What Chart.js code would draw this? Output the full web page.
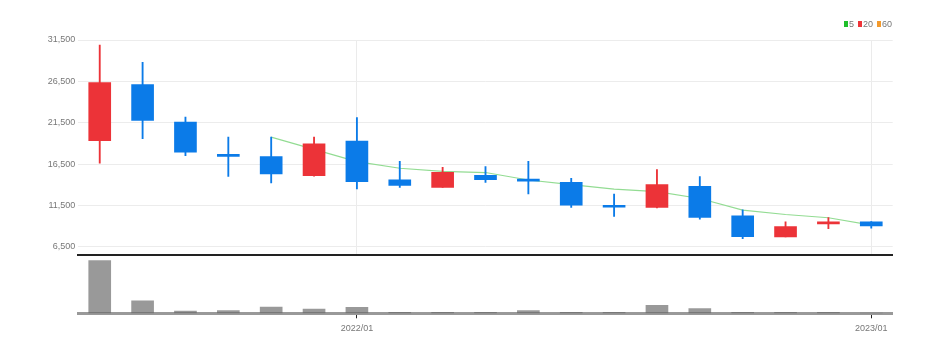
<!DOCTYPE html>
<html>
<head>
<meta charset="utf-8">
<script src="https://cdn.jsdelivr.net/npm/chart.js@4.4.0/dist/chart.umd.min.js"></script>
<style>
html,body{margin:0;padding:0;background:#fff;width:946px;height:352px;overflow:hidden;}
#wrap{position:relative;width:946px;height:352px;}
#pc{position:absolute;left:0;top:0;}
#vc{position:absolute;left:0;top:254px;}
#legend{position:absolute;top:18px;left:844px;height:12px;display:flex;align-items:center;font-family:'Liberation Sans Narrow','Liberation Sans',Arial,sans-serif;font-size:9px;color:#777;white-space:nowrap;}
#legend .b{display:inline-block;width:3.5px;height:6.5px;margin-right:1.5px;}
#legend .t{margin-right:4px;}
</style>
</head>
<body>
<div id="wrap">
  <canvas id="pc" width="946" height="263"></canvas>
  <canvas id="vc" width="946" height="98"></canvas>
  <div id="legend">
    <span class="b" style="background:#1fbf2a"></span><span class="t">5</span>
    <span class="b" style="background:#ee3338"></span><span class="t">20</span>
    <span class="b" style="background:#f39a2c"></span><span class="t">60</span>
  </div>
</div>
<script>
// ---- data ----
const months = ['2021/07','2021/08','2021/09','2021/10','2021/11','2021/12','2022/01','2022/02','2022/03','2022/04','2022/05','2022/06','2022/07','2022/08','2022/09','2022/10','2022/11','2022/12','2023/01'];
const openP  = [19330, 26120, 21590, 17500, 17420, 15120, 19280, 14600, 13700, 15150, 14600, 14300, 11390, 11270, 13820, 10260, 7710, 9280, 9530];
const closeP = [26370, 21790, 17940, 17450, 15320, 18960, 14390, 13940, 15520, 14630, 14450, 11560, 11300, 14020, 10060, 7750, 8960, 9350, 9050];
const highP  = [30890, 28790, 22190, 19770, 19770, 19770, 22120, 16850, 16120, 16210, 16850, 14790, 12900, 15850, 15000, 10990, 9530, 10060, 9560];
const lowP   = [16610, 19570, 17540, 15030, 14230, 15050, 13500, 13700, 13690, 14300, 12900, 11270, 10180, 11230, 9860, 7510, 7700, 8720, 8770];
const ma5    = [null, null, null, null, 19770, 18290, 16810, 16010, 15630, 15490, 14590, 14020, 13490, 13190, 12350, 10940, 10420, 10030, 9130];
const volume = [8870, 2120, 390, 440, 1060, 730, 1010, 170, 170, 170, 440, 170, 170, 1350, 780, 170, 170, 170, 50];
const priceTicks = [6500, 11500, 16500, 21500, 26500, 31500];
const xTickLabels = ['', '', '', '', '', '', '2022/01', '', '', '', '', '', '', '', '', '', '', '', '2023/01'];

const FONT = "'Liberation Sans Narrow','Liberation Sans',Arial,sans-serif";
const UP = '#ec3338', DOWN = '#0b7be8';
const candleColors = openP.map((o, i) => closeP[i] >= o ? UP : DOWN);
const bodies = openP.map((o, i) => [o, closeP[i]]);
const wicks = lowP.map((l, i) => [l, highP[i]]);
const labelIdx = xTickLabels.map((t, i) => t ? i : -1).filter(i => i >= 0);

new Chart(document.getElementById('pc'), {
  type: 'bar',
  data: {
    labels: months,
    datasets: [
      { type: 'bar', label: 'body', data: bodies, backgroundColor: candleColors, barThickness: 22, grouped: false, minBarLength: 2, order: 0 },
      { type: 'bar', label: 'wick', data: wicks, backgroundColor: candleColors, barThickness: 1.2, grouped: false, order: 1 },
      { type: 'line', label: '5', data: ma5, borderColor: '#93dc93', borderWidth: 1.2, pointRadius: 0, order: 2, tension: 0 }
    ]
  },
  options: {
    responsive: false,
    animation: false,
    layout: { padding: { top: 40, bottom: 2.7, left: 0, right: 53.3 } },
    plugins: { legend: { display: false }, tooltip: { enabled: false } },
    scales: {
      x: {
        grid: { offset: false, drawTicks: false, lineWidth: 1,
                color: ctx => labelIdx.includes(ctx.index) ? '#ebebeb' : 'rgba(0,0,0,0)' },
        ticks: { display: false },
        border: { display: true, color: '#222', width: 2 },
        afterFit: s => { s.height = 0; }
      },
      y: {
        min: 5576, max: 31500,
        afterBuildTicks: s => { s.ticks = priceTicks.map(v => ({ value: v })); },
        grid: { color: '#ececec', drawTicks: false },
        border: { display: false },
        ticks: { font: { family: FONT, size: 9 }, color: '#777', padding: 3,
                 callback: v => v.toLocaleString('en-US') },
        afterFit: s => { s.width = 78.3; }
      }
    }
  }
});

new Chart(document.getElementById('vc'), {
  type: 'bar',
  data: {
    labels: months,
    datasets: [{ label: 'volume', data: volume, backgroundColor: 'rgba(105,105,105,0.68)', barThickness: 22 }]
  },
  options: {
    responsive: false,
    animation: false,
    layout: { padding: { top: 0, bottom: 0, left: 0, right: 53.3 } },
    plugins: { legend: { display: false }, tooltip: { enabled: false } },
    scales: {
      x: {
        grid: { offset: false, drawOnChartArea: false, drawTicks: true, tickLength: 5,
                color: ctx => labelIdx.includes(ctx.index) ? '#222' : 'rgba(0,0,0,0)' },
        border: { display: true, color: 'rgba(105,105,105,0.68)', width: 3 },
        ticks: { autoSkip: false, maxRotation: 0, font: { family: FONT, size: 9 }, color: '#777', padding: 5,
                 callback: (v, i) => xTickLabels[i] },
        afterFit: s => { s.height = 38.7; }
      },
      y: {
        min: 0, max: 10000,
        ticks: { display: false },
        grid: { display: false },
        border: { display: false },
        afterFit: s => { s.width = 78.3; }
      }
    }
  }
});
</script>
</body>
</html>
